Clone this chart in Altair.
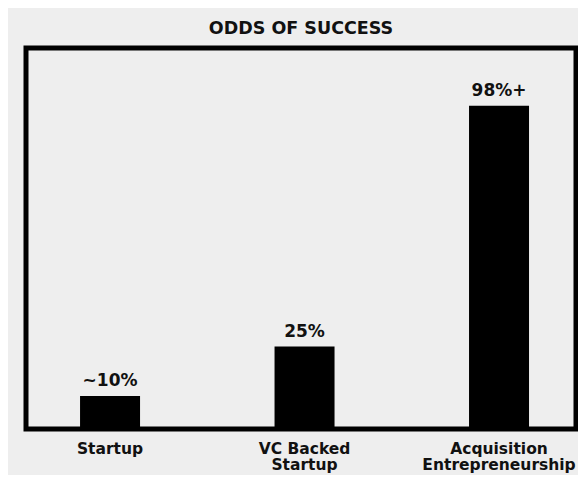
import altair as alt
import pandas as pd

categories = ["Startup", "VC Backed|Startup", "Acquisition|Entrepreneurship"]
values = [10, 25, 98]
labels = ["~10%", "25%", "98%+"]

df = pd.DataFrame({"category": categories, "value": values, "label": labels})

FONT = "DejaVu Sans"

x = alt.X(
    "category:N", sort=categories, title=None,
    scale=alt.Scale(paddingInner=0.6915, paddingOuter=0.2597, align=0.535),
    axis=alt.Axis(labelAngle=0, labelExpr="split(datum.label, '|')", domain=False,
                  ticks=False, labelPadding=12, labelFont=FONT, labelFontSize=15.5,
                  labelFontWeight="bold", labelColor="#111111", labelLineHeight=16.5),
)
y = alt.Y("value:Q", scale=alt.Scale(domain=[0, 115.5], nice=False), axis=None)

bars = alt.Chart(df).mark_bar(color="black").encode(x=x, y=y)
text = alt.Chart(df).mark_text(
    baseline="alphabetic", dy=-10, font=FONT, fontSize=17, fontWeight="bold", color="#111111"
).encode(x=alt.X("category:N", sort=categories), y=alt.Y("value:Q"), text="label:N")

chart = (bars + text).properties(
    width=550, height=381,
    title=alt.Title("ODDS OF SUCCESS", font=FONT, fontSize=17.5, fontWeight="bold",
                    anchor="middle", baseline="alphabetic", offset=13, dy=16,
                    color="#111111"),
    background="#eeeeee",
    padding={"left": 18, "top": 40, "right": 2, "bottom": 46},
    autosize=alt.AutoSizeParams(type="none"),
).configure_view(stroke="black", strokeWidth=5)

chart.save("out.html", embed_options={"renderer": "svg", "actions": False})
